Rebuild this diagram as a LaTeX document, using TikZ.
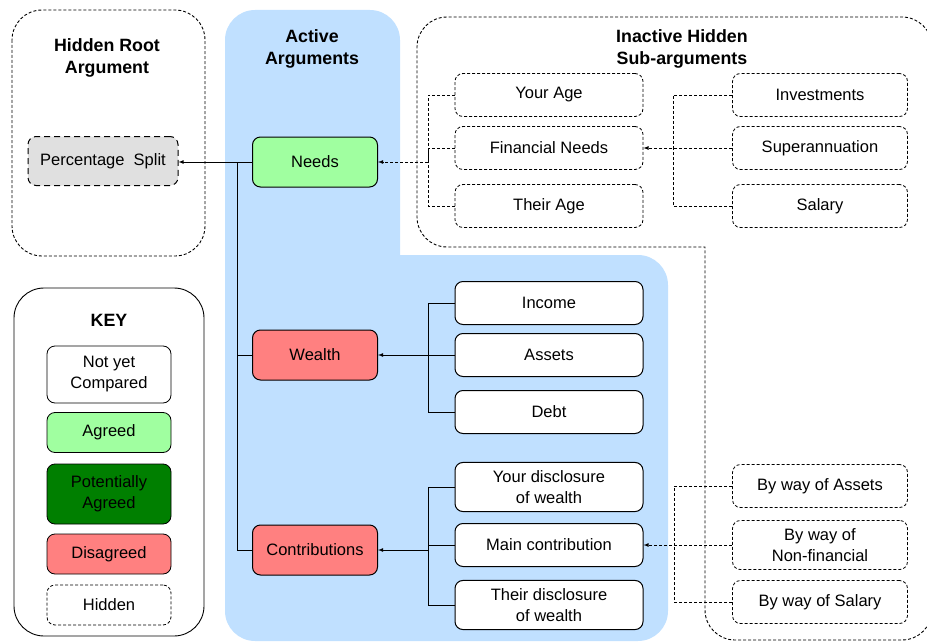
\documentclass[tikz,border=0pt]{standalone}
\usepackage{fontspec}
\setmainfont{Liberation Sans}
\usetikzlibrary{arrows}

\definecolor{activeblue}{HTML}{C0E0FF}
\definecolor{agreed}{HTML}{A0FFA0}
\definecolor{potential}{HTML}{007F00}
\definecolor{disagreed}{HTML}{FF8080}
\definecolor{rootgray}{HTML}{E0E0E0}

\tikzstyle{box} = [draw,line width=1pt,rounded corners=8pt,align=center,inner xsep=0pt,inner ysep=8pt,font=\fontsize{16.5}{21}\selectfont]
\tikzstyle{arg} = [box,minimum width=125pt,minimum height=50pt]
\tikzstyle{sub} = [box,fill=white,minimum width=188pt,minimum height=43pt]
\tikzstyle{hidden sub} = [sub,line width=0.8pt,dash pattern=on 3pt off 2pt,minimum width=175pt]
\tikzstyle{keybox} = [box,minimum width=124pt,minimum height=40pt,line width=0.8pt]
\tikzstyle{title} = [font=\fontsize{17.8}{21.5}\selectfont\bfseries,align=center]
\tikzstyle{region} = [line width=0.9pt,rounded corners=30pt]
\tikzstyle{hidden region} = [region,dash pattern=on 3pt off 2pt]
\tikzstyle{link} = [draw,line width=0.8pt]
\tikzstyle{hidden link} = [link,dash pattern=on 3pt off 2pt]
\tikzstyle{edge} = [link,->,>=latex]
\tikzstyle{hidden edge} = [hidden link,->,>=latex]

\begin{document}
\begin{tikzpicture}[x=1pt,y=-1pt]
\useasboundingbox (0,0) rectangle (927,642);
\clip (0,0) rectangle (927,642);

% regions
\fill[activeblue,rounded corners=30pt] (300,641) -- (225,641) -- (225,10) -- (400,10) -- (400,200)
  [sharp corners] -- (400,255) -- (600,255) [rounded corners=30pt] -- (668,255) -- (668,641) -- cycle;
\draw[hidden region] (12,10) rectangle (205,256);
\draw[region] (14,288) rectangle (204,636);
\draw[hidden region] (560,17) -- (932,17) -- (932,640) -- (705,640) -- (705,400)
  [sharp corners] -- (705,247) -- (500,247) [rounded corners=30pt] -- (417,247) -- (417,17) -- cycle;

\node[title] (roottitle) at (107,58) {Hidden Root\\Argument};
\node[title] (activetitle) at (312,49) {Active\\Arguments};
\node[title] (inactivetitle) at (682,49) {Inactive Hidden\\Sub-arguments};
\node[title] (keytitle) at (109,320) {KEY};

% root
\node[box,fill=rootgray,dash pattern=on 6pt off 4pt,minimum width=150pt,minimum height=49pt] (split) at (103,161) {Percentage\ \ Split};

% active arguments
\foreach \pos/\name/\txt/\col in {{(315,162)/needs/Needs/agreed},
                                 {(315,355)/wealth/Wealth/disagreed},
                                 {(315,550)/contrib/Contributions/disagreed}}{
  \node[arg,fill=\col] (\name) at \pos {\txt};
}
\foreach \pos/\name/\txt in {{(549,303)/income/Income}, {(549,355)/assets/Assets},
                             {(549,412)/debt/Debt}, {(549,487)/yourdisc/{Your disclosure\\of wealth}},
                             {(549,545)/maincon/Main contribution},
                             {(549,605)/theirdisc/{Their disclosure\\of wealth}}}{
  \node[sub] (\name) at \pos {\txt};
}

% hidden sub-arguments
\foreach \pos/\name/\txt in {{(549,95)/yourage/Your Age}, {(549,148)/finneeds/Financial Needs},
                             {(549,206)/theirage/Their Age}}{
  \node[hidden sub,minimum width=188pt] (\name) at \pos {\txt};
}
\foreach \pos/\name/\txt in {{(820,95)/invest/Investments}, {(820,148)/super/Superannuation},
                             {(820,206)/salary/Salary}, {(820,486)/bwassets/By way of Assets},
                             {(820,545)/bwnonfin/{By way of\\Non-financial}},
                             {(820,602)/bwsalary/By way of Salary}}{
  \node[hidden sub] (\name) at \pos {\txt};
}

% key
\node[keybox,fill=white,minimum height=57pt] (notyet) at (109,374.5) {Not yet\\Compared};
\node[keybox,fill=agreed] (agreedkey) at (109,432.5) {Agreed};
\node[keybox,fill=potential,minimum height=60pt] (potentialkey) at (109,494) {Potentially\\Agreed};
\node[keybox,fill=disagreed] (disagreedkey) at (109,554) {Disagreed};
\node[keybox,fill=white,dash pattern=on 3pt off 2pt] (hiddenkey) at (109,605) {Hidden};

% junctions
\coordinate (rj) at (237,162);
\coordinate (nj) at (428,162);
\coordinate (wj) at (428,355);
\coordinate (cj) at (428,550);
\coordinate (fj) at (673,148);
\coordinate (mj) at (674,545);

% links
\path[edge] (needs.west) -- (split.east |- needs.west);
\path[link] (wealth.west) -| (rj);
\path[link] (contrib.west) -| (rj);

\foreach \child in {yourage,finneeds,theirage}
  \path[hidden link] (\child.west) -| (nj);
\path[hidden edge] (nj) -- (needs);

\foreach \child in {income,assets,debt}
  \path[link] (\child.west) -| (wj);
\path[edge] (wj) -- (wealth);

\foreach \child in {yourdisc,maincon,theirdisc}
  \path[link] (\child.west) -| (cj);
\path[edge] (cj) -- (contrib);

\foreach \child in {invest,salary}
  \path[hidden link] (\child.west) -| (fj);
\path[hidden edge] (super) -- (finneeds);

\foreach \child in {bwassets,bwsalary}
  \path[hidden link] (\child.west) -| (mj);
\path[hidden edge] (bwnonfin) -- (maincon);
\end{tikzpicture}
\end{document}
